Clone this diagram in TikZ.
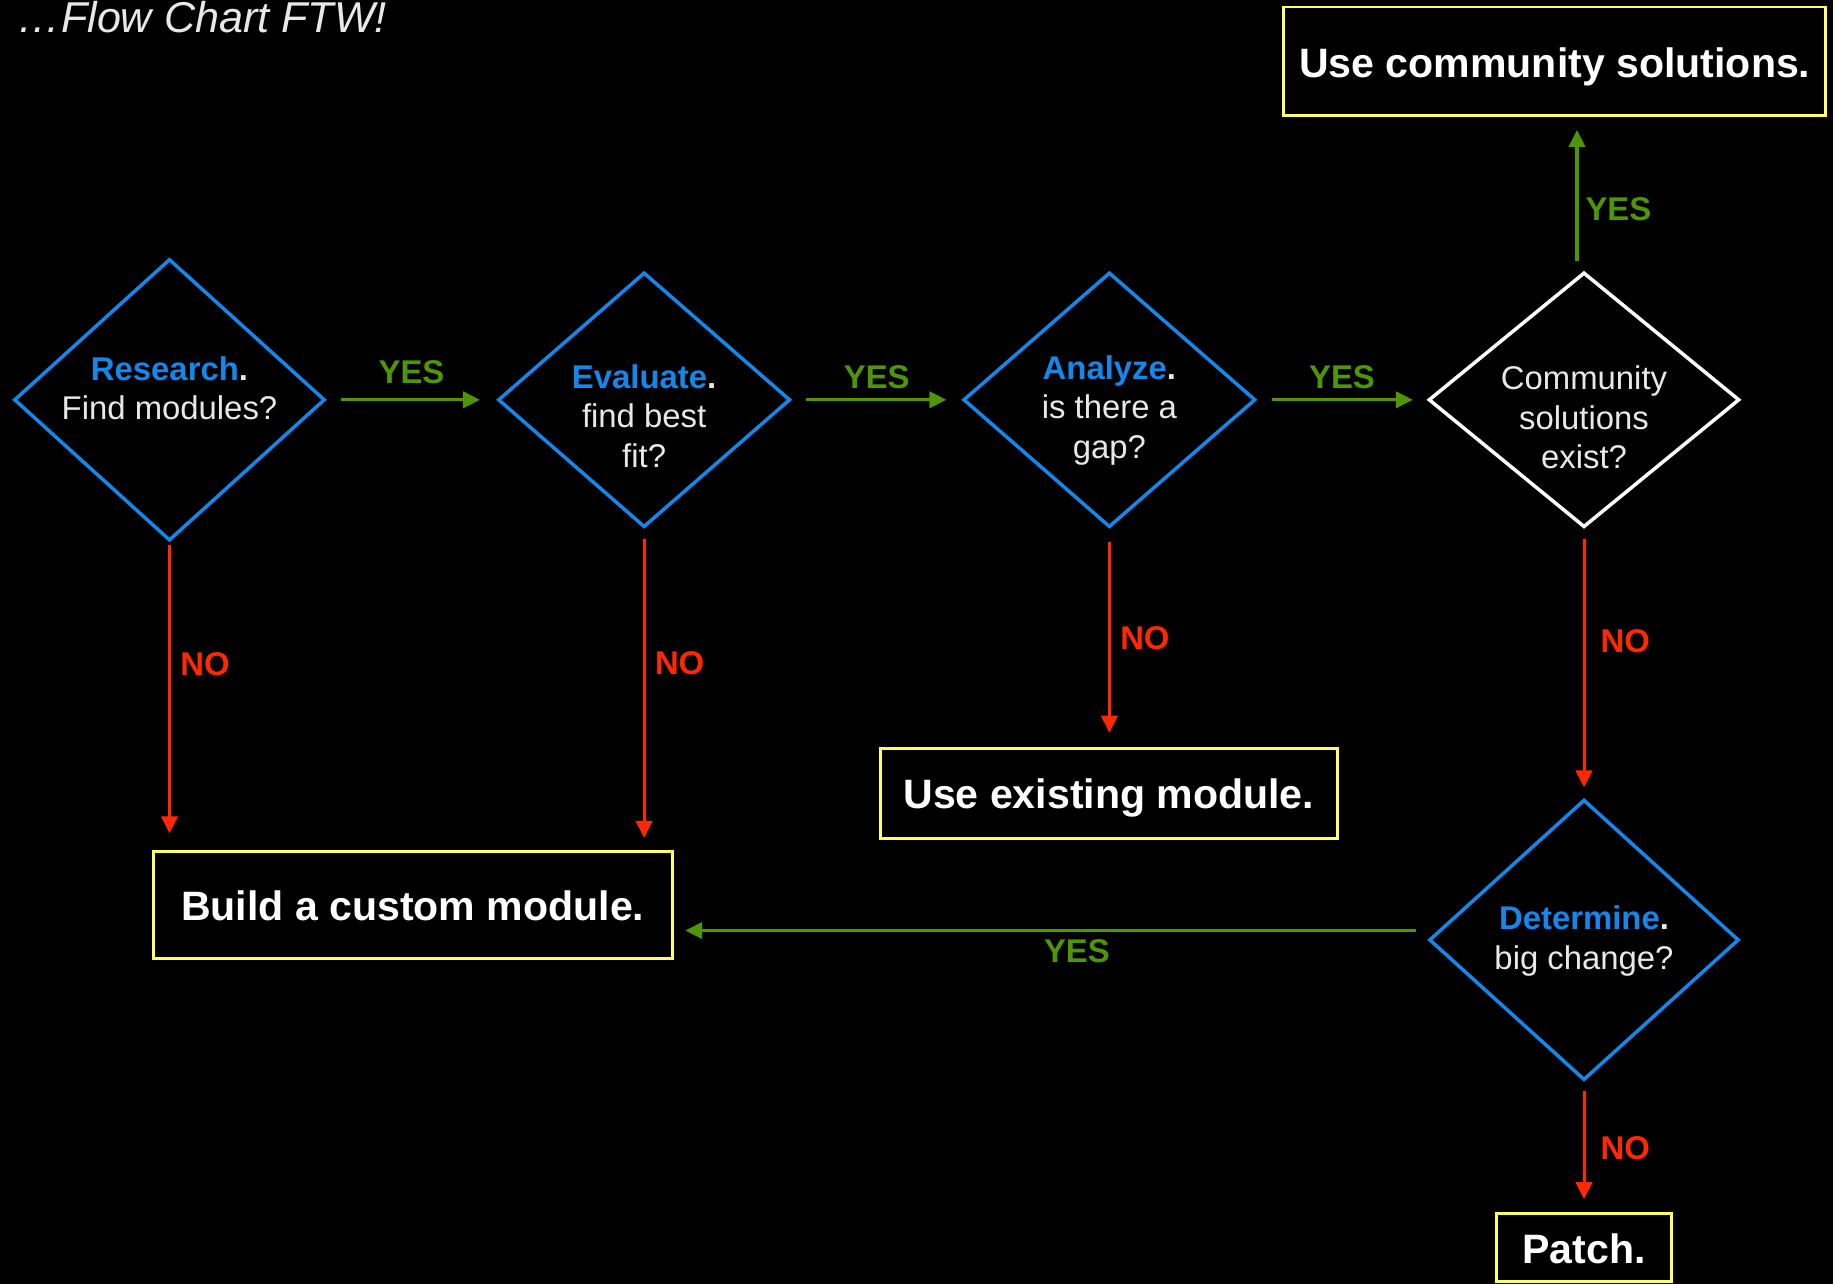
\documentclass[tikz,border=0pt]{standalone}
\usepackage{fontspec}
\setmainfont{Liberation Sans}
\usetikzlibrary{shapes.geometric,arrows.meta,calc}
\definecolor{dblue}{RGB}{20,135,235}
\definecolor{dgreen}{RGB}{78,150,6}
\definecolor{dred}{RGB}{255,40,0}
\definecolor{dyellow}{RGB}{255,255,102}
\definecolor{lgray}{RGB}{232,232,232}
\begin{document}
\begin{tikzpicture}[x=0.02cm,y=-0.02cm,
  dia/.style={diamond, draw=dblue, line width=0.06cm, inner sep=0pt},
  wdia/.style={dia, draw=white},
  dtext/.style={text=lgray, align=center, inner sep=0pt, font=\fontsize{16}{19.3}\selectfont},
  box/.style={draw=dyellow, line width=0.05cm, text=white, inner sep=0pt, font=\bfseries\fontsize{20}{24}\selectfont},
  btext/.style={text=white, inner sep=0pt, font=\bfseries\fontsize{20}{24}\selectfont},
  yesarr/.style={draw=dgreen, line width=0.052cm, -{Triangle[length=0.29cm,width=0.28cm]}},
  noarr/.style={draw=dred, line width=0.052cm, -{Triangle[length=0.29cm,width=0.28cm]}},
  yeslbl/.style={text=dgreen, inner sep=0pt, font=\bfseries\fontsize{16}{19}\selectfont},
  nolbl/.style={text=dred, inner sep=0pt, font=\bfseries\fontsize{16}{19}\selectfont},
  title/.style={text=lgray, inner sep=0pt, font=\itshape\fontsize{21}{25}\selectfont}
]
\fill[black] (0,0) rectangle (1568,1098);
\useasboundingbox (0,0) rectangle (1568,1098);

\node[title, anchor=base west] (t) at (15,28) {\dots Flow Chart FTW!};

% diamonds
\node[dia, minimum width=5.32cm, minimum height=4.82cm] (r) at (145,342) {};
\node[dtext] (rt) at (145,332) {\textbf{\textcolor{dblue}{Research}.}\\Find modules?};

\node[dia, minimum width=5.0cm, minimum height=4.36cm] (e) at (551,342) {};
\node[dtext] (et) at (551,356) {\textbf{\textcolor{dblue}{Evaluate}.}\\find best\\fit?};

\node[dia, minimum width=5.0cm, minimum height=4.36cm] (a) at (949,342) {};
\node[dtext] (at) at (949,351) {\textbf{\textcolor{dblue}{Analyze}.}\\is there a\\gap?};

\node[wdia, minimum width=5.32cm, minimum height=4.36cm] (c) at (1355,342) {};
\node[dtext] (ct) at (1355,357) {Community\\solutions\\exist?};

\node[dia, minimum width=5.3cm, minimum height=4.8cm] (d) at (1355,804) {};
\node[dtext] (dt) at (1355,805) {\textbf{\textcolor{dblue}{Determine}.}\\big change?};

% boxes
\node[box, minimum width=9.28cm, minimum height=1.86cm] (comm) at (1330,52.5) {};
\node[btext] (commt) at (1330,57) {Use community solutions.};
\node[box, minimum width=7.82cm, minimum height=1.54cm] (exist) at (948.5,678.5) {};
\node[btext] (existt) at (948.5,683) {Use existing module.};
\node[box, minimum width=8.88cm, minimum height=1.84cm] (build) at (353,774) {};
\node[btext] (buildt) at (353,775) {Build a custom module.};
\node[box, minimum width=3.0cm, minimum height=1.16cm] (patch) at (1355,1067) {};
\node[btext] (patcht) at (1355,1068) {Patch.};

% yes arrows
\draw[yesarr, shorten <=0.24cm, shorten >=0.28cm] (r.east) -- node[yeslbl, yshift=0.48cm] {YES} (e.west);
\draw[yesarr, shorten <=0.24cm, shorten >=0.26cm] (e.east) -- node[yeslbl, yshift=0.38cm] {YES} (a.west);
\draw[yesarr, shorten <=0.26cm, shorten >=0.24cm] (a.east) -- node[yeslbl, yshift=0.38cm] {YES} (c.west);
\draw[yesarr, shorten <=0.16cm, shorten >=0.22cm] ([xshift=-0.12cm]c.north) -- node[yeslbl, pos=0.4, right=0.12cm] {YES} ([xshift=-0.12cm]c.north |- comm.south);
\draw[yesarr, shorten <=0.2cm, shorten >=0.2cm] ([yshift=0.16cm]d.west) -- node[yeslbl, pos=0.465, below=0.12cm] {YES} ([yshift=0.16cm]d.west -| build.east);

% no arrows
\draw[noarr, shorten <=0.04cm, shorten >=0.28cm] (r.south) -- node[nolbl, pos=0.395, right=0.16cm] {NO} (r.south |- build.north);
\draw[noarr, shorten <=0.18cm, shorten >=0.2cm] (e.south) -- node[nolbl, pos=0.42, right=0.16cm] {NO} (e.south |- build.north);
\draw[noarr, shorten <=0.22cm, shorten >=0.24cm] (a.south) -- node[nolbl, pos=0.5, right=0.16cm] {NO} (a.south |- exist.north);
\draw[noarr, shorten <=0.18cm, shorten >=0.18cm] (c.south) -- node[nolbl, pos=0.416, right=0.26cm] {NO} (d.north);
\draw[noarr, shorten <=0.16cm, shorten >=0.22cm] (d.south) -- node[nolbl, pos=0.51, right=0.26cm] {NO} (d.south |- patch.north);
\end{tikzpicture}
\end{document}
